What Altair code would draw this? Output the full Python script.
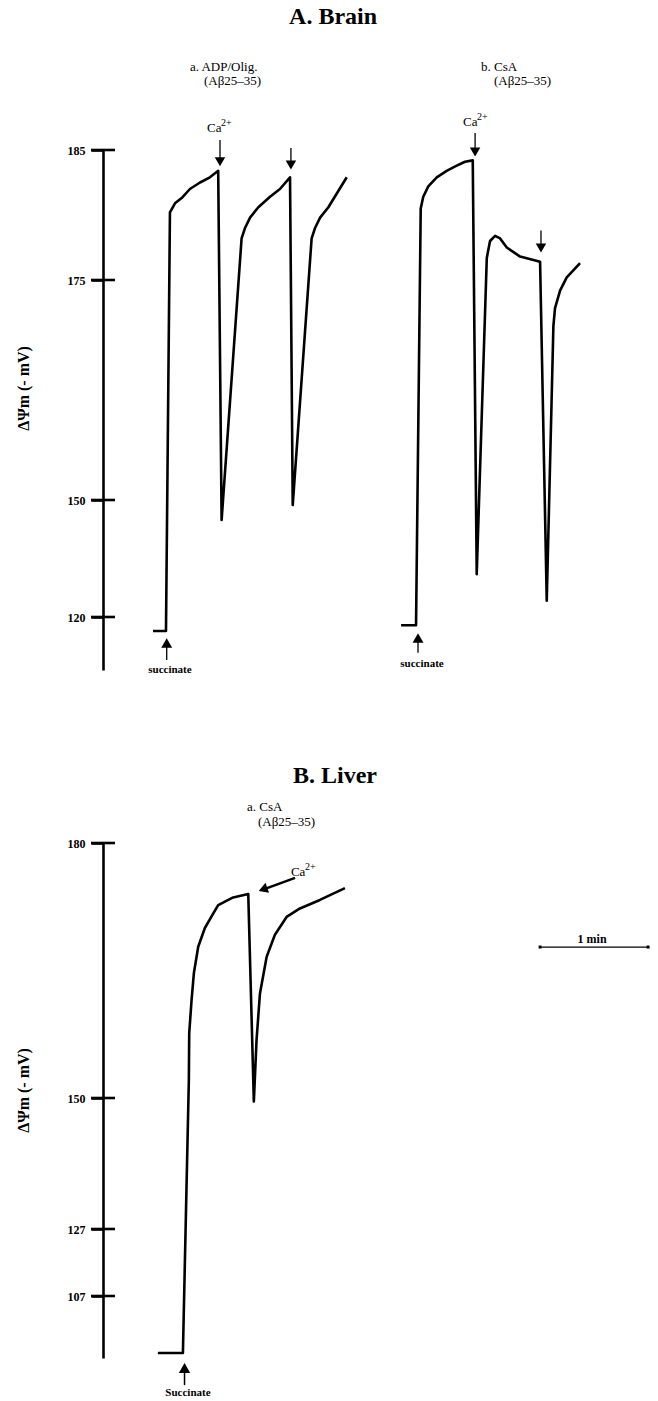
import altair as alt
import pandas as pd

# ---------------- values ----------------
# time in s after succinate addition, membrane potential dPsi_m in (-mV)
BRAIN_A_T = [-7.2, 0.0, 2.2, 5.0, 8.7, 13.3, 18.9, 24.4, 29.0, 30.9, 42.0, 43.9, 46.7,
             51.3, 57.8, 63.3, 68.9, 70.4, 80.9, 82.8, 85.6, 90.2, 100.4]
BRAIN_A_MV = [116.4, 116.4, 180.2, 180.9, 181.3, 182.0, 182.5, 182.9, 183.4, 144.9, 178.2, 179.0, 179.8,
              180.6, 181.4, 182.0, 182.9, 148.7, 178.2, 179.0, 179.8, 180.6, 182.9]

BRAIN_B_T = [-8.3, 0.0, 2.6, 4.0, 6.8, 11.5, 17.0, 22.6, 27.2, 31.5, 33.7, 39.3, 41.1, 43.9,
             46.7, 50.4, 57.8, 68.9, 72.6, 76.3, 77.2, 80.0, 83.7, 91.1]
BRAIN_B_MV = [117.9, 117.9, 180.5, 181.4, 182.2, 182.9, 183.4, 183.8, 184.1, 184.2, 131.0, 176.7, 178.0, 178.4,
              178.2, 177.5, 176.8, 176.4, 124.2, 169.8, 171.8, 173.8, 175.2, 176.3]

LIVER_T = [-13.9, 0.0, 3.3, 3.5, 4.8, 6.1, 8.5, 12.2, 16.8, 19.6, 27.9, 36.3, 39.4, 40.9,
           42.8, 46.5, 51.1, 57.6, 65.0, 76.1, 90.0]
LIVER_MV = [90.0, 90.0, 152.1, 157.6, 161.5, 164.7, 167.8, 170.0, 171.7, 172.7, 173.6, 174.0, 149.4, 156.8,
            162.3, 166.6, 169.2, 171.3, 172.3, 173.3, 174.7]

BRAIN_TICKS = [185, 175, 150, 120]
LIVER_TICKS = [180, 150, 127, 107]

SCALE_BAR_S = 60  # "1 min"

# ---------------- layout ----------------
W, H = 658, 1401
FONT = "Liberation Serif"
X_DOMAIN = [-92.2, 273.3]        # seconds across the page
AXIS_T = -35.0                    # where the vertical axes stand
OFF_A, OFF_B, OFF_L = 0.0, 138.9, 9.4
LW = 2.6

XS = alt.Scale(domain=X_DOMAIN, zero=False, nice=False)
# the original axes are not linear: piecewise scales through the tick marks
BRAIN_SCALE = alt.Scale(domain=[106.4, 120, 150, 175, 185], range=[670, 617, 500, 280, 150],
                        zero=False, nice=False)
LIVER_SCALE = alt.Scale(domain=[88.5, 107, 127, 150, 180], range=[1358, 1296, 1229, 1098, 843],
                        zero=False, nice=False)


def yaxis(ticks, title_y):
    return alt.Axis(orient="left", offset=-103, values=ticks, grid=False,
                    domain=True, domainColor="black", domainWidth=LW,
                    ticks=True, tickSize=12, tickWidth=LW, tickColor="black",
                    labelFont=FONT, labelFontSize=12, labelFontWeight="bold", labelColor="black",
                    labelPadding=6, labelFlush=False, labelOverlap=False,
                    title="ΔΨm (- mV)", titleFont=FONT, titleFontSize=16, titleFontWeight="bold",
                    titleColor="black", titleAngle=270, titleX=-80, titleY=title_y,
                    titleAlign="center", titleBaseline="middle")


class Section:
    def __init__(self, scale, axis):
        self.scale = scale
        self.axis = axis

    def x(self, field="t"):
        return alt.X(field, type="quantitative", scale=XS, axis=None)

    def y(self, field="mv"):
        return alt.Y(field, type="quantitative", scale=self.scale, axis=self.axis)

    def trace(self, ts, mvs, off):
        df = pd.DataFrame({"t": [t + off for t in ts], "mv": mvs, "i": list(range(len(ts)))})
        return alt.Chart(df).mark_line(color="black", strokeWidth=LW, strokeJoin="round").encode(
            x=self.x(), y=self.y(), order="i:Q")

    def ticks(self, ticks):
        df = pd.DataFrame({"t": [AXIS_T] * len(ticks), "mv": ticks})
        return alt.Chart(df).mark_tick(orient="horizontal", size=24, thickness=LW, color="black",
                                       opacity=1).encode(x=self.x(), y=self.y())

    def text(self, rows, size, weight="normal", align="left"):
        df = pd.DataFrame(rows, columns=["t", "mv", "label"])
        return alt.Chart(df).mark_text(font=FONT, fontSize=size, fontWeight=weight, align=align,
                                       baseline="middle", color="black").encode(
            x=self.x(), y=self.y(), text="label:N")

    def shafts(self, rows, width=1.3):
        df = pd.DataFrame(rows, columns=["t", "mv", "t2", "mv2"])
        return alt.Chart(df).mark_rule(color="black", strokeWidth=width, opacity=1).encode(
            x=self.x(), x2="t2", y=self.y(), y2="mv2")

    def heads(self, rows, shape, size=100, angle=0):
        df = pd.DataFrame(rows, columns=["t", "mv"])
        return alt.Chart(df).mark_point(shape=shape, filled=True, size=size, angle=angle,
                                        color="black", opacity=1, strokeWidth=0).encode(
            x=self.x(), y=self.y())


# ---------------- A. Brain ----------------
B = Section(BRAIN_SCALE, yaxis(BRAIN_TICKS, 388))
brain = alt.layer(
    B.trace(BRAIN_A_T, BRAIN_A_MV, OFF_A),
    B.trace(BRAIN_B_T, BRAIN_B_MV, OFF_B),
    B.ticks(BRAIN_TICKS),
    B.text([(92.8, 195.2, "A. Brain")], 24, "bold", "center"),
    B.text([(13.3, 191.4, "a. ADP/Olig."), (21.1, 190.3, "(Aβ25–35)"),
            (175.0, 191.4, "b. CsA"), (182.2, 190.3, "(Aβ25–35)")], 13),
    B.text([(22.8, 186.7, "Ca"), (165.0, 187.15, "Ca")], 13),
    B.text([(30.6, 187.1, "2+"), (172.8, 187.55, "2+")], 10),
    B.text([(2.2, 106.4, "succinate"), (142.2, 107.95, "succinate")], 11, "bold", "center"),
    B.shafts([(30.0, 185.77, 30.0, 184.1), (69.4, 185.15, 69.4, 183.85),
              (171.7, 186.3, 171.7, 184.85), (208.3, 178.8, 208.3, 177.46)]),
    B.heads([(30.0, 184.1), (69.4, 183.85), (171.7, 184.85), (208.3, 177.46)], "triangle-down", size=110),
    B.shafts([(0.4, 108.97, 0.4, 113.3), (140.0, 110.8, 140.0, 114.6)]),
    B.heads([(0.4, 113.3), (140.0, 114.6)], "triangle-up", size=120),
)

# ---------------- B. Liver ----------------
L = Section(LIVER_SCALE, yaxis(LIVER_TICKS, 1090))
liver = alt.layer(
    L.trace(LIVER_T, LIVER_MV, OFF_L),
    L.ticks(LIVER_TICKS),
    L.text([(93.9, 187.9, "B. Liver")], 24, "bold", "center"),
    L.text([(45.0, 184.2, "a. CsA"), (51.1, 182.5, "(Aβ25–35)")], 13),
    L.text([(69.4, 176.6, "Ca")], 13),
    L.text([(77.2, 177.2, "2+")], 10),
    L.shafts([(71.7, 175.9, 55.0, 174.6)], width=2.6),
    L.heads([(53.9, 174.55)], "triangle-left", size=110, angle=340),
    L.shafts([(10.3, 80.4, 10.3, 85.5)], width=1.5),
    L.heads([(10.3, 85.5)], "triangle-up", size=130),
    L.text([(12.2, 78.0, "Succinate")], 11, "bold", "center"),
    L.shafts([(207.8, 167.76, 207.8 + SCALE_BAR_S, 167.76)], width=1.2),
    L.heads([(207.8, 167.76), (207.8 + SCALE_BAR_S, 167.76)], "square", size=9),
    L.text([(236.7, 168.7, "1 min")], 12, "bold", "center"),
)

chart = alt.layer(brain, liver).resolve_scale(y="independent").properties(
    width=W, height=H, padding=0, autosize=alt.AutoSizeParams(type="none"),
    background="white",
).configure_view(stroke=None)

chart.save("out.html", embed_options={"renderer": "svg", "actions": False})
